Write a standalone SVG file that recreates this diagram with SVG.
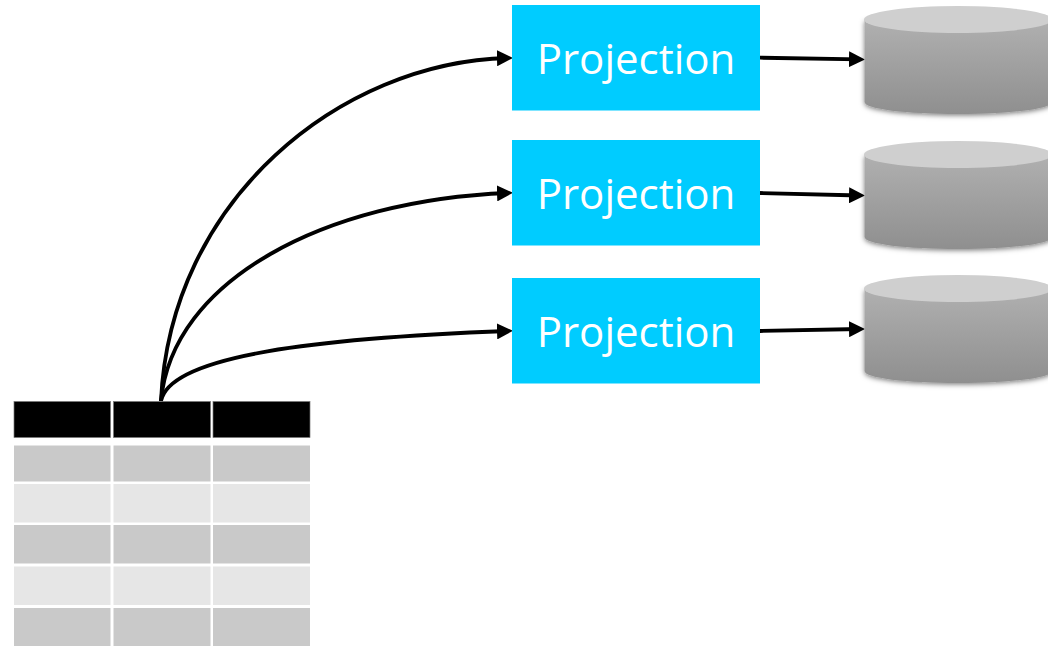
<svg xmlns="http://www.w3.org/2000/svg" width="1048" height="646" viewBox="0 0 1048 646">
<style>
.box{fill:#00ccff}
.lbl{font-family:"Open Sans","Noto Sans",sans-serif;font-size:42px;fill:#fff;text-anchor:middle}
.c{fill:none;stroke:#000;stroke-width:3.8;marker-end:url(#ah)}
.h{fill:#000;stroke:#777;stroke-width:.7}
.d{fill:#c9c9c9}
.l{fill:#e6e6e6}
.top{fill:#cfcfcf}
.body{fill:url(#cg);filter:url(#sh)}
</style>
<defs>
<marker id="ah" markerUnits="userSpaceOnUse" markerWidth="16" markerHeight="16" refX="11" refY="8" orient="auto"><path d="M0 0L16 8L0 16Z" fill="#000"/></marker>
<linearGradient id="cg" x1="0" y1="0" x2="0" y2="1"><stop offset="0" stop-color="#b0b0b0"/><stop offset="1" stop-color="#8f8f8f"/></linearGradient>
<filter id="sh" x="-5%" y="-8%" width="110%" height="120%"><feDropShadow dx="0" dy="1.500" stdDeviation="2.500" flood-color="#000" flood-opacity=".5"/></filter>
<path id="cyl" d="M864.500 20V102C864.500 109 906 114 958 114S1052 109 1052 102V20Z"/>
</defs>
<g id="connectors">
<path class="c" d="M161 401C170 200 340 62 508 58"/>
<path class="c" d="M161 401C172 280 325 200 508 193"/>
<path class="c" d="M161 401C170 355 320 338 508 331"/>
<path class="c" d="M760 57.700L860 59.300"/>
<path class="c" d="M760 193L860 195.500"/>
<path class="c" d="M760 331L860 329"/>
</g>
<g id="projection-1"><rect class="box" x="512" y="5" width="248" height="105.500"/><text class="lbl" x="636" y="74">Projection</text></g>
<g id="projection-2"><rect class="box" x="512" y="140" width="248" height="105.500"/><text class="lbl" x="636" y="209">Projection</text></g>
<g id="projection-3"><rect class="box" x="512" y="278" width="248" height="105.500"/><text class="lbl" x="636" y="347">Projection</text></g>
<g id="cylinder-1"><use href="#cyl" class="body"/><ellipse class="top" cx="958" cy="19.500" rx="94" ry="13.500"/></g>
<g id="cylinder-2" transform="translate(0 135)"><use href="#cyl" class="body"/><ellipse class="top" cx="958" cy="19.500" rx="94" ry="13.500"/></g>
<g id="cylinder-3" transform="translate(0 269)"><use href="#cyl" class="body"/><ellipse class="top" cx="958" cy="19.500" rx="94" ry="13.500"/></g>
<g id="table">
<rect class="h" x="14" y="401.500" width="96.500" height="36"/><rect class="h" x="113.500" y="401.500" width="97" height="36"/><rect class="h" x="213" y="401.500" width="97" height="36"/>
<rect class="d" x="14" y="445.500" width="96.500" height="36"/><rect class="d" x="113.500" y="445.500" width="97" height="36"/><rect class="d" x="213" y="445.500" width="97" height="36"/>
<rect class="l" x="14" y="484" width="96.500" height="38.500"/><rect class="l" x="113.500" y="484" width="97" height="38.500"/><rect class="l" x="213" y="484" width="97" height="38.500"/>
<rect class="d" x="14" y="525" width="96.500" height="38.500"/><rect class="d" x="113.500" y="525" width="97" height="38.500"/><rect class="d" x="213" y="525" width="97" height="38.500"/>
<rect class="l" x="14" y="566.500" width="96.500" height="38.500"/><rect class="l" x="113.500" y="566.500" width="97" height="38.500"/><rect class="l" x="213" y="566.500" width="97" height="38.500"/>
<rect class="d" x="14" y="608" width="96.500" height="38"/><rect class="d" x="113.500" y="608" width="97" height="38"/><rect class="d" x="213" y="608" width="97" height="38"/>
</g>
</svg>
